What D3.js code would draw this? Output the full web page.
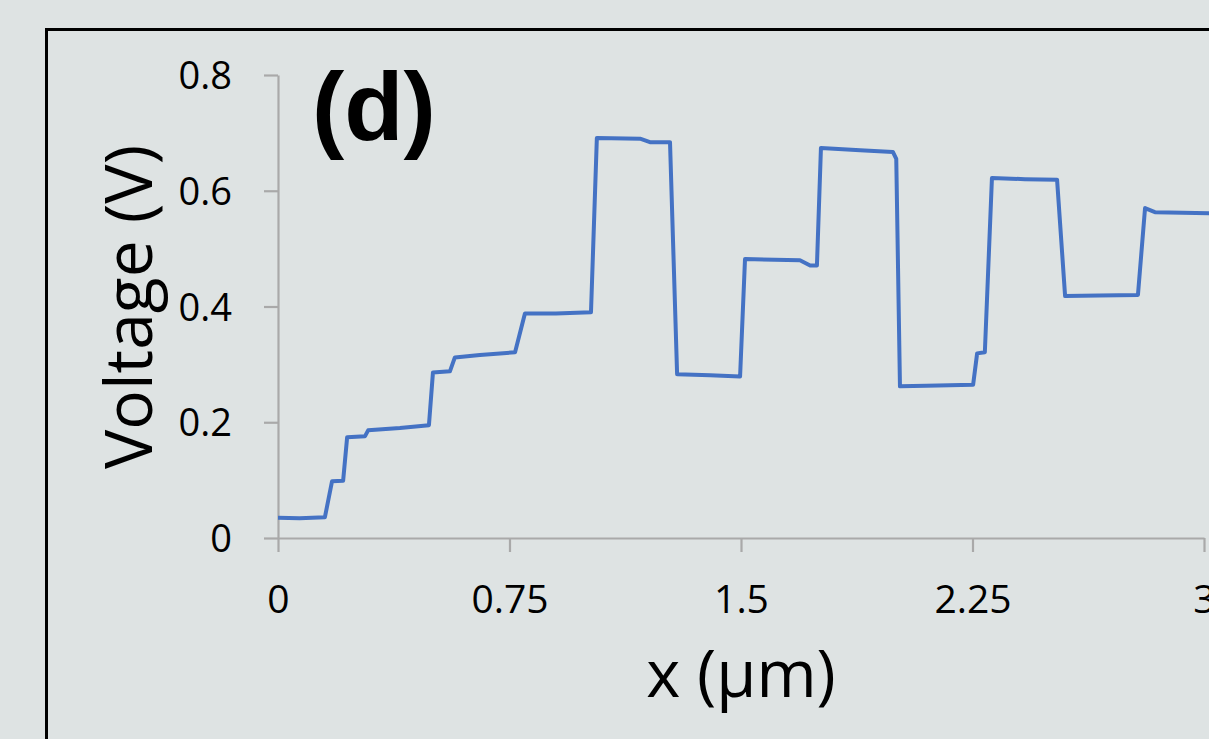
<!DOCTYPE html>
<html>
<head>
<meta charset="utf-8">
<script src="https://cdn.jsdelivr.net/npm/d3@7"></script>
<style>
  body { margin: 0; background: #dee3e3; overflow: hidden; }
  svg { display: block; }
  .tick text { font-family: "Open Sans", sans-serif; fill: #000; }
</style>
</head>
<body>
<div class="chart-container"></div>
<script>

const xPos = [0, 0.07, 0.152, 0.175, 0.211, 0.224, 0.282, 0.292, 0.395, 0.489,
    0.502, 0.557, 0.573, 0.654, 0.768, 0.800, 0.90, 1.014, 1.033, 1.173,
    1.205, 1.270, 1.293, 1.40, 1.497, 1.513, 1.691, 1.724, 1.746, 1.759,
    1.886, 1.992, 2.003, 2.015, 2.10, 2.252, 2.265, 2.290, 2.313, 2.42,
    2.524, 2.550, 2.66, 2.786, 2.809, 2.841, 2.93, 3.02];
const voltage = [0.035, 0.034, 0.036, 0.098, 0.099, 0.174, 0.176, 0.186, 0.19, 0.195,
    0.286, 0.288, 0.312, 0.316, 0.321, 0.388, 0.388, 0.390, 0.691, 0.690,
    0.684, 0.684, 0.283, 0.281, 0.279, 0.482, 0.480, 0.471, 0.471, 0.674,
    0.670, 0.667, 0.655, 0.262, 0.263, 0.265, 0.319, 0.321, 0.622, 0.620,
    0.619, 0.418, 0.419, 0.420, 0.570, 0.563, 0.562, 0.561];

const xTicks = [0, 0.75, 1.5, 2.25, 3];
const yTicks = [0, 0.2, 0.4, 0.6, 0.8];

const data = xPos.map((x, i) => ({x: x, v: voltage[i]}));

// size of page
const W = 1209, H = 739;
const margin = {top: 75, left: 278, bottom: 201};
const plotW = 926;   // 0 -> 3 µm
const plotH = H - margin.top - margin.bottom;

const svg = d3.select(".chart-container")
    .append("svg")
    .attr("width", W)
    .attr("height", H);

// black frame that runs off the picture
svg.append("rect")
    .attr("x", 46.5)
    .attr("y", 29.5)
    .attr("width", 2000)
    .attr("height", 2000)
    .attr("fill", "none")
    .attr("stroke", "#000")
    .attr("stroke-width", 3);

const g = svg.append("g")
    .attr("transform", "translate(" + margin.left + "," + margin.top + ")");

const xScale = d3.scaleLinear().domain([0, 3]).range([0, plotW]);
const yScale = d3.scaleLinear().domain([0, 0.8]).range([plotH, 0]);

// y axis
const yAxis = g.append("g")
    .call(d3.axisLeft(yScale).tickValues(yTicks).tickSize(14).tickSizeOuter(0)
        .tickFormat(d => d === 0 ? "0" : d3.format(".1f")(d)));
yAxis.selectAll(".tick text")
    .attr("x", -46)
    .attr("dy", "0.36em")
    .attr("font-size", 38);

// x axis
const xAxis = g.append("g")
    .attr("transform", "translate(0," + plotH + ")")
    .call(d3.axisBottom(xScale).tickValues(xTicks).tickSize(14).tickSizeOuter(0)
        .tickFormat(d => String(d)));
xAxis.selectAll(".tick text")
    .attr("y", 75)
    .attr("dy", 0)
    .attr("font-size", 39);

// grey axis lines
g.selectAll(".domain, .tick line")
    .attr("stroke", "#a9a9a9")
    .attr("stroke-width", 2.2);

// voltage trace
const line = d3.line()
    .x(d => xScale(d.x))
    .y(d => yScale(d.v));

g.append("path")
    .datum(data)
    .attr("d", line)
    .attr("fill", "none")
    .attr("stroke", "#4472c4")
    .attr("stroke-width", 4)
    .attr("stroke-linejoin", "round");

// axis titles
svg.append("text")
    .attr("transform", "translate(152,307) rotate(-90)")
    .attr("text-anchor", "middle")
    .attr("font-family", "Open Sans, sans-serif")
    .attr("font-size", 66)
    .text("Voltage (V)");

svg.append("text")
    .attr("x", 741)
    .attr("y", 697)
    .attr("text-anchor", "middle")
    .attr("font-family", "Open Sans, sans-serif")
    .attr("font-size", 65)
    .text("x (µm)");

// panel label
svg.append("text")
    .attr("x", 312)
    .attr("y", 140)
    .attr("font-family", "Liberation Sans, Arial, sans-serif")
    .attr("font-weight", "bold")
    .attr("font-size", 97)
    .text("(d)");

</script>
</body>
</html>
